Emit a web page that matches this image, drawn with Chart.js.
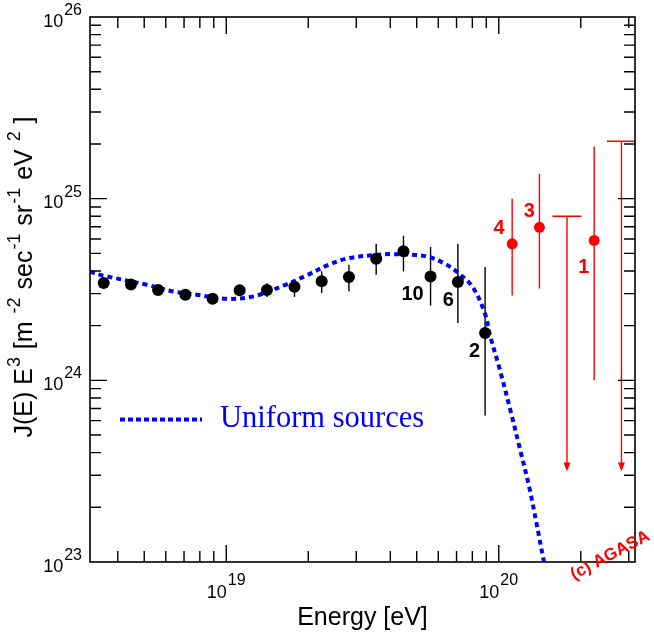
<!DOCTYPE html>
<html>
<head>
<meta charset="utf-8">
<script src="https://cdn.jsdelivr.net/npm/chart.js@4.4.1/dist/chart.umd.min.js"></script>
<style>
  html, body { margin: 0; padding: 0; background: #fff; }
  #wrap { width: 654px; height: 632px; }
</style>
</head>
<body>
<div id="wrap"><canvas id="spectrum" width="654" height="632"></canvas></div>
<script>
// AGASA spectrum, J(E) E^3 vs energy
const binEnergies = [3.55e18, 4.47e18, 5.62e18, 7.08e18, 8.91e18, 1.12e19, 1.41e19, 1.78e19,
                     2.24e19, 2.82e19, 3.55e19, 4.47e19, 5.62e19, 7.08e19, 8.91e19];
const binFlux     = [3.43e24, 3.37e24, 3.14e24, 2.96e24, 2.81e24, 3.13e24, 3.14e24, 3.27e24,
                     3.51e24, 3.71e24, 4.67e24, 5.13e24, 3.73e24, 3.48e24, 1.82e24];
const binLow      = [3.27e24, 3.21e24, 2.99e24, 2.82e24, 2.67e24, 2.96e24, 2.88e24, 2.88e24,
                     3.03e24, 3.09e24, 3.81e24, 3.98e24, 2.58e24, 2.07e24, 6.41e23];
const binHigh     = [3.60e24, 3.54e24, 3.30e24, 3.11e24, 2.95e24, 3.31e24, 3.42e24, 3.58e24,
                     3.98e24, 4.33e24, 5.65e24, 6.25e24, 5.42e24, 5.65e24, 4.21e24];
const binTags     = { 12: '10', 13: '6', 14: '2' };

const topEnergies = [1.12e20, 1.41e20, 2.24e20];
const topFlux     = [5.64e24, 6.95e24, 5.89e24];
const topLow      = [2.93e24, 3.20e24, 1.00e24];
const topHigh     = [1.00e25, 1.37e25, 1.94e25];
const topTags     = ['4', '3', '1'];

const limitEnergies = [1.78e20, 2.82e20];
const limitFlux     = [8.0e24, 2.07e25];
const limitArrowTo  = 3.15e23;

// "Uniform sources" model curve
const modelEnergies = [3.16e18, 3.54e18, 5.11e18, 6.40e18, 7.78e18, 1.00e19, 1.26e19, 1.62e19,
                       1.97e19, 2.37e19, 2.77e19, 3.56e19, 4.10e19, 5.43e19, 6.44e19, 7.19e19,
                       8.05e19, 8.89e19, 9.31e19, 1.01e20, 1.11e20, 1.19e20, 1.30e20, 1.46e20, 1.50e20];
const modelFlux     = [3.96e24, 3.77e24, 3.36e24, 3.08e24, 2.96e24, 2.81e24, 2.90e24, 3.32e24,
                       3.78e24, 4.32e24, 4.68e24, 4.91e24, 4.95e24, 4.81e24, 4.33e24, 3.84e24,
                       3.24e24, 2.34e24, 1.75e24, 1.14e24, 6.61e23, 4.32e23, 2.50e23, 1.03e23, 8.5e22];
const modelLabel = 'Uniform sources';

const xRange = [3.1623e18, 3.1623e20];
const yRange = [1e23, 1e26];
const xMajorTicks = [1e19, 1e20];
const xTickExps = ['19', '20'];
const yMajorTicks = [1e23, 1e24, 1e25, 1e26];
const yTickExps = ['23', '24', '25', '26'];

const SANS = '"Liberation Sans", Arial, Helvetica, sans-serif';
const RED = '#ff0000';
const BLUE = '#0000ff';

function pairs(xs, ys) {
  return xs.map((x, i) => ({ x: x, y: ys[i] }));
}

// base "10" with a raised exponent, x = left edge
function drawPower(ctx, exp, x, baseY, supY) {
  ctx.font = '18px ' + SANS;
  ctx.textAlign = 'left';
  ctx.textBaseline = 'alphabetic';
  ctx.fillText('10', x, baseY);
  const wb = ctx.measureText('10').width;
  ctx.font = '16px ' + SANS;
  ctx.fillText(exp, x + wb + 1, supY);
}
function powerWidth(ctx, exp) {
  ctx.font = '18px ' + SANS;
  const wb = ctx.measureText('10').width;
  ctx.font = '16px ' + SANS;
  return wb + 1 + ctx.measureText(exp).width;
}

const decorations = {
  id: 'decorations',
  beforeDatasetsDraw(chart) {
    const ctx = chart.ctx, xs = chart.scales.x, ys = chart.scales.y, a = chart.chartArea;
    ctx.save();
    ctx.beginPath();
    ctx.rect(a.left, a.top, a.right - a.left, a.bottom - a.top);
    ctx.clip();
    ctx.lineWidth = 1.4;
    ctx.strokeStyle = '#000';
    binEnergies.forEach((e, i) => {
      const px = xs.getPixelForValue(e);
      ctx.beginPath();
      ctx.moveTo(px, ys.getPixelForValue(binLow[i]));
      ctx.lineTo(px, ys.getPixelForValue(binHigh[i]));
      ctx.stroke();
    });
    ctx.strokeStyle = RED;
    ctx.fillStyle = RED;
    topEnergies.forEach((e, i) => {
      const px = xs.getPixelForValue(e);
      ctx.beginPath();
      ctx.moveTo(px, ys.getPixelForValue(topLow[i]));
      ctx.lineTo(px, ys.getPixelForValue(topHigh[i]));
      ctx.stroke();
    });
    limitEnergies.forEach((e, i) => {
      const px = xs.getPixelForValue(e);
      const py = ys.getPixelForValue(limitFlux[i]);
      const pe = ys.getPixelForValue(limitArrowTo);
      ctx.beginPath();
      ctx.moveTo(px - 14.5, py);
      ctx.lineTo(px + 14.5, py);
      ctx.moveTo(px, py);
      ctx.lineTo(px, pe - 6);
      ctx.stroke();
      ctx.beginPath();
      ctx.moveTo(px - 3.5, pe - 9);
      ctx.lineTo(px + 3.5, pe - 9);
      ctx.lineTo(px, pe);
      ctx.closePath();
      ctx.fill();
    });
    ctx.restore();
  },
  afterDraw(chart) {
    const ctx = chart.ctx, xs = chart.scales.x, ys = chart.scales.y, a = chart.chartArea;
    ctx.save();
    // frame
    ctx.strokeStyle = '#000';
    ctx.lineWidth = 1.6;
    ctx.strokeRect(a.left, a.top, a.right - a.left, a.bottom - a.top);
    // inward ticks on all four sides
    ctx.lineWidth = 1.4;
    ctx.beginPath();
    for (let n = 18; n <= 20; n++) {
      for (let k = 1; k <= 9; k++) {
        const v = k * Math.pow(10, n);
        if (v <= xRange[0] || v >= xRange[1]) continue;
        const px = xs.getPixelForValue(v);
        const len = k === 1 ? 17 : 11;
        ctx.moveTo(px, a.bottom); ctx.lineTo(px, a.bottom - len);
        ctx.moveTo(px, a.top); ctx.lineTo(px, a.top + len);
      }
    }
    for (let n = 23; n <= 25; n++) {
      for (let k = 1; k <= 9; k++) {
        const v = k * Math.pow(10, n);
        const py = ys.getPixelForValue(v);
        const len = k === 1 ? 17 : 11;
        if (k === 1 && n === 23) continue;
        ctx.moveTo(a.left, py); ctx.lineTo(a.left + len, py);
        ctx.moveTo(a.right, py); ctx.lineTo(a.right - len, py);
      }
    }
    ctx.stroke();

    // tick labels
    ctx.fillStyle = '#000';
    xMajorTicks.forEach((v, i) => {
      const px = xs.getPixelForValue(v);
      const w = powerWidth(ctx, xTickExps[i]);
      drawPower(ctx, xTickExps[i], px - w / 2, a.bottom + 36, a.bottom + 23);
    });
    yMajorTicks.forEach((v, i) => {
      const py = ys.getPixelForValue(v);
      const w = powerWidth(ctx, yTickExps[i]);
      drawPower(ctx, yTickExps[i], a.left - 8 - w, py + 9.5, py - 2);
    });

    // axis titles
    ctx.font = '25px ' + SANS;
    ctx.textAlign = 'center';
    ctx.textBaseline = 'alphabetic';
    ctx.fillText('Energy [eV]', (a.left + a.right) / 2, 625);

    const parts = [['J(E) E', 0], ['3', 1], [' [m ', 0], ['-2', 1], [' sec', 0], ['-1', 1],
                   [' sr', 0], ['-1', 1], [' eV ', 0], ['2', 1], [' ]', 0]];
    const mainFont = '25px ' + SANS, supFont = '18px ' + SANS;
    let total = 0;
    parts.forEach(p => { ctx.font = p[1] ? supFont : mainFont; total += ctx.measureText(p[0]).width + (p[1] ? 2 : 0); });
    ctx.translate(32, 277);
    ctx.rotate(-Math.PI / 2);
    ctx.textAlign = 'left';
    let cx = -total / 2;
    parts.forEach(p => {
      ctx.font = p[1] ? supFont : mainFont;
      if (p[1]) cx += 1;
      ctx.fillText(p[0], cx, p[1] ? -12 : 0);
      cx += ctx.measureText(p[0]).width + (p[1] ? 1 : 0);
    });
    ctx.setTransform(1, 0, 0, 1, 0, 0);
    ctx.restore();
    ctx.save();

    // point tags
    ctx.font = 'bold 20px ' + SANS;
    ctx.textAlign = 'center';
    ctx.textBaseline = 'middle';
    ctx.fillStyle = '#000';
    const tagOffsets = { 12: [-18, 18], 13: [-9.5, 18.5], 14: [-10.5, 18.5] };
    Object.keys(binTags).forEach(i => {
      const px = xs.getPixelForValue(binEnergies[i]), py = ys.getPixelForValue(binFlux[i]);
      ctx.fillText(binTags[i], px + tagOffsets[i][0], py + tagOffsets[i][1]);
    });
    ctx.fillStyle = RED;
    const topOffsets = [[-13, -15], [-10, -16], [-10.5, 27.5]];
    topTags.forEach((t, i) => {
      const px = xs.getPixelForValue(topEnergies[i]), py = ys.getPixelForValue(topFlux[i]);
      ctx.fillText(t, px + topOffsets[i][0], py + topOffsets[i][1]);
    });

    // legend for the model curve
    ctx.strokeStyle = BLUE;
    ctx.lineWidth = 4;
    ctx.setLineDash([5, 3]);
    ctx.beginPath();
    ctx.moveTo(120, 419.5);
    ctx.lineTo(202, 419.5);
    ctx.stroke();
    ctx.setLineDash([]);
    ctx.fillStyle = BLUE;
    ctx.font = '30.5px "Liberation Serif", "Times New Roman", serif';
    ctx.textAlign = 'left';
    ctx.textBaseline = 'alphabetic';
    ctx.fillText(modelLabel, 220, 427);

    // watermark
    ctx.translate(574, 580);
    ctx.rotate(-28 * Math.PI / 180);
    ctx.fillStyle = RED;
    ctx.font = 'bold 17px ' + SANS;
    ctx.fillText('(c) AGASA', 0, 0);
    ctx.restore();
  }
};

new Chart(document.getElementById('spectrum'), {
  type: 'scatter',
  data: {
    datasets: [
      {
        label: 'AGASA',
        data: pairs(binEnergies, binFlux),
        pointRadius: 6,
        pointBackgroundColor: '#000',
        pointBorderWidth: 0,
        order: 0
      },
      {
        label: 'AGASA high',
        data: pairs(topEnergies, topFlux),
        pointRadius: 5.5,
        pointBackgroundColor: RED,
        pointBorderWidth: 0,
        order: 0
      },
      {
        type: 'line',
        label: modelLabel,
        data: pairs(modelEnergies, modelFlux),
        borderColor: BLUE,
        borderWidth: 4,
        borderDash: [5, 4],
        pointRadius: 0,
        fill: false,
        tension: 0.35,
        order: 1
      }
    ]
  },
  options: {
    responsive: false,
    animation: false,
    layout: { padding: { left: 90, top: 17, right: 19, bottom: 70 } },
    plugins: { legend: { display: false }, tooltip: { enabled: false } },
    scales: {
      x: { type: 'logarithmic', min: xRange[0], max: xRange[1], display: false },
      y: { type: 'logarithmic', min: yRange[0], max: yRange[1], display: false }
    }
  },
  plugins: [decorations]
});
</script>
</body>
</html>
